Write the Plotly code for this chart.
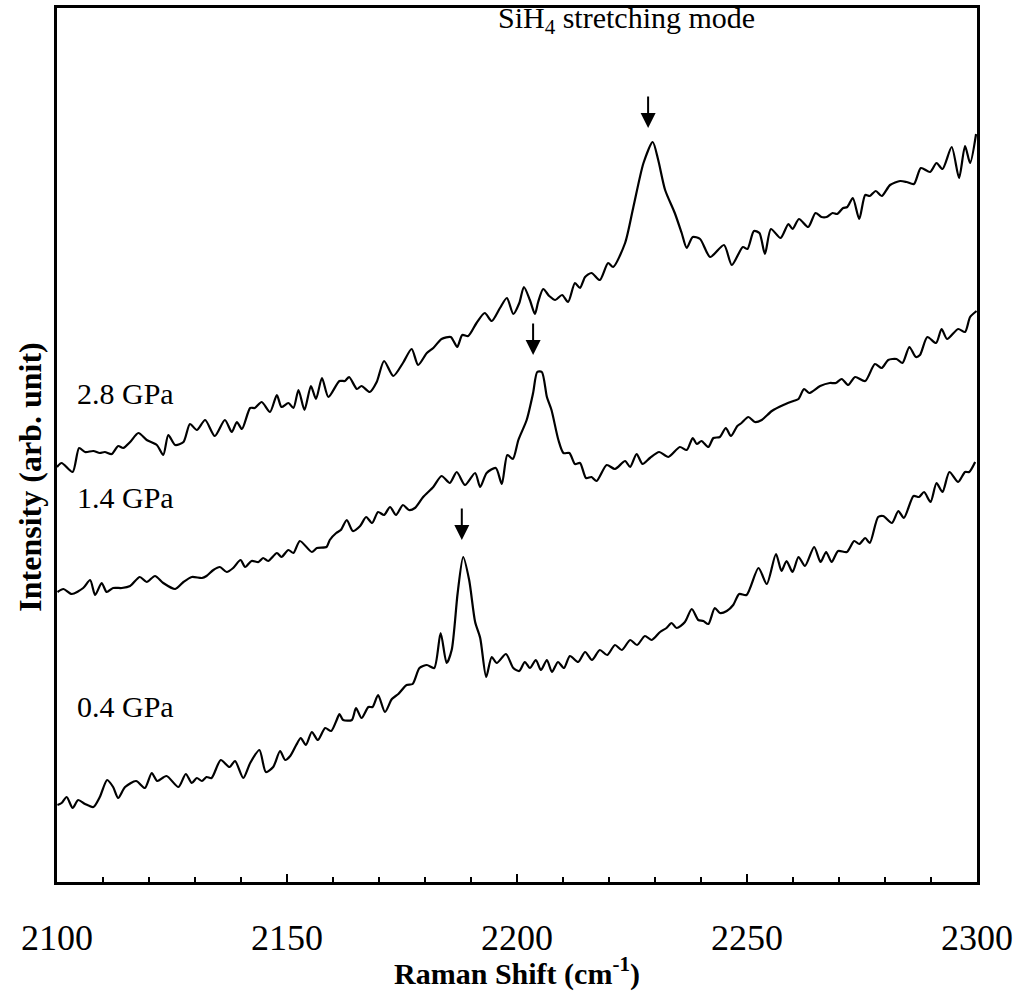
import plotly.graph_objects as go

# ---- data (Raman shift in cm^-1, intensity in arbitrary units) ----
shift_28 = [2100.0, 2101.0, 2103.4, 2104.8, 2106.1, 2107.9, 2109.3, 2110.4, 2111.9, 2113.3,
            2114.4, 2115.9, 2117.7, 2119.5, 2121.7, 2123.1, 2124.2, 2125.7, 2127.5, 2128.9,
            2130.4, 2132.2, 2134.3, 2136.5, 2138.0, 2139.1, 2140.2, 2142.0, 2143.0, 2144.5,
            2146.3, 2147.8, 2148.8, 2150.3, 2151.4, 2152.5, 2153.8, 2155.2, 2156.3, 2157.6,
            2159.0, 2161.4, 2162.6, 2163.5, 2165.2, 2166.2, 2168.0, 2169.5, 2171.1, 2173.1,
            2175.2, 2177.1, 2178.5, 2180.4, 2181.8, 2183.6, 2185.6, 2187.0, 2188.1, 2189.4,
            2191.2, 2193.0, 2194.5, 2196.3, 2197.8, 2199.2, 2200.5, 2201.5, 2202.8, 2203.9,
            2204.6, 2205.7, 2207.0, 2208.3, 2209.8, 2211.1, 2212.6, 2213.7, 2214.8, 2216.2,
            2218.0, 2219.8, 2220.9, 2223.5, 2225.3, 2227.5, 2229.5, 2230.7, 2232.2, 2234.3,
            2235.8, 2236.9, 2238.2, 2239.8, 2242.0, 2245.0, 2246.7, 2249.1, 2250.1, 2251.5,
            2252.7, 2253.9, 2255.2, 2257.3, 2259.0, 2259.9, 2261.3, 2263.3, 2264.9, 2266.2,
            2267.3, 2268.6, 2269.6, 2270.9, 2271.8, 2273.0, 2274.4, 2275.7, 2276.7, 2278.0,
            2279.3, 2281.1, 2283.3, 2284.7, 2286.3, 2287.8, 2289.8, 2291.2, 2292.5, 2294.5,
            2296.1, 2297.4, 2298.5, 2299.8]
int_28 = [415, 419, 410, 434, 430, 431, 429, 430, 428, 436,
          434, 440, 449, 442, 437, 427, 447, 437, 440, 458,
          452, 462, 446, 462, 450, 460, 453, 474, 474, 480,
          470, 487, 475, 479, 474, 492, 472, 496, 483, 504,
          485, 501, 501, 505, 493, 496, 490, 500, 521, 506,
          519, 533, 517, 529, 534, 543, 545, 535, 547, 546,
          559, 569, 561, 574, 584, 568, 579, 595, 582, 568,
          580, 593, 586, 582, 587, 580, 599, 594, 605, 609,
          602, 619, 615, 639, 675, 719, 740, 722, 692, 669,
          649, 634, 645, 643, 625, 637, 617, 635, 633, 651,
          649, 628, 653, 644, 658, 653, 663, 655, 669, 665,
          665, 669, 668, 674, 675, 684, 663, 687, 686, 691,
          686, 697, 701, 700, 698, 714, 710, 719, 713, 735,
          704, 736, 719, 748]

shift_14 = [2100.1, 2101.4, 2103.2, 2105.7, 2107.2, 2108.3, 2109.7, 2110.8, 2112.2, 2114.1,
            2115.9, 2118.0, 2119.5, 2121.3, 2123.1, 2125.7, 2127.5, 2129.3, 2131.5, 2132.5,
            2134.0, 2135.4, 2136.9, 2138.3, 2139.9, 2140.9, 2142.3, 2143.8, 2144.8, 2145.9,
            2147.8, 2148.8, 2150.3, 2151.4, 2152.8, 2155.4, 2156.5, 2158.6, 2159.3, 2160.7,
            2161.7, 2163.0, 2164.3, 2165.9, 2167.2, 2168.5, 2169.8, 2171.1, 2172.4, 2173.7,
            2175.2, 2176.5, 2177.8, 2179.6, 2181.8, 2183.6, 2185.4, 2186.9, 2188.7, 2190.9,
            2192.0, 2193.4, 2195.4, 2196.7, 2197.9, 2199.1, 2200.3, 2202.1, 2203.5, 2204.4,
            2205.4, 2206.5, 2207.5, 2209.0, 2210.1, 2211.4, 2212.6, 2213.7, 2215.0, 2216.2,
            2217.3, 2219.5, 2221.3, 2223.5, 2224.6, 2226.0, 2227.3, 2228.9, 2230.9, 2232.9,
            2235.4, 2236.9, 2238.2, 2239.1, 2240.1, 2241.6, 2242.7, 2244.1, 2245.4, 2246.5,
            2247.9, 2248.8, 2250.3, 2251.7, 2253.2, 2255.4, 2257.9, 2260.1, 2261.2, 2262.4,
            2263.5, 2265.9, 2268.0, 2269.3, 2270.6, 2272.0, 2273.5, 2275.7, 2277.8, 2279.3,
            2280.7, 2282.5, 2283.8, 2285.3, 2286.7, 2287.6, 2289.2, 2291.1, 2292.3, 2293.5,
            2295.9, 2297.4, 2298.5, 2299.9]
int_14 = [290, 293, 288, 294, 302, 287, 299, 290, 294, 294,
          296, 305, 300, 306, 299, 293, 300, 305, 304, 306,
          312, 315, 310, 314, 322, 315, 321, 320, 324, 321,
          329, 325, 332, 329, 341, 330, 334, 335, 342, 349,
          352, 362, 351, 356, 365, 359, 370, 367, 375, 367,
          377, 372, 374, 385, 395, 406, 399, 410, 397, 409,
          395, 409, 414, 398, 427, 423, 442, 462, 489, 510,
          510, 485, 472, 442, 429, 429, 418, 419, 404, 405,
          401, 417, 413, 421, 415, 428, 418, 424, 430, 425,
          435, 432, 444, 438, 441, 435, 444, 445, 454, 446,
          456, 459, 465, 460, 462, 471, 477, 481, 483, 493,
          489, 496, 499, 499, 503, 497, 505, 501, 518, 514,
          522, 523, 519, 535, 525, 527, 545, 539, 553, 543,
          553, 550, 565, 571]

shift_04 = [2100.1, 2101.0, 2102.1, 2103.4, 2104.6, 2106.1, 2107.9, 2109.3, 2110.9, 2112.2,
            2113.3, 2114.8, 2117.2, 2119.1, 2120.6, 2121.8, 2123.8, 2126.4, 2128.0, 2129.3,
            2130.4, 2131.5, 2132.5, 2133.6, 2135.6, 2137.5, 2138.7, 2140.5, 2142.0, 2144.0,
            2145.4, 2147.0, 2148.5, 2149.6, 2150.7, 2152.0, 2153.0, 2154.1, 2155.4, 2156.7,
            2158.3, 2159.6, 2160.8, 2161.4, 2162.2, 2164.1, 2165.0, 2166.2, 2167.7, 2168.6,
            2169.8, 2171.3, 2172.8, 2174.2, 2176.0, 2177.3, 2178.8, 2180.4, 2182.0, 2183.4,
            2184.7, 2185.8, 2187.1, 2188.3, 2189.6, 2190.9, 2192.0, 2193.3, 2194.5, 2195.6,
            2197.6, 2199.2, 2200.5, 2201.7, 2202.8, 2204.1, 2205.2, 2206.5, 2207.6, 2208.9,
            2210.2, 2211.5, 2213.3, 2214.8, 2216.3, 2218.0, 2219.6, 2221.3, 2222.8, 2224.6,
            2226.1, 2227.8, 2229.3, 2231.1, 2232.5, 2233.6, 2234.7, 2236.5, 2238.0, 2239.4,
            2240.5, 2241.6, 2243.0, 2244.1, 2245.6, 2247.0, 2248.3, 2249.9, 2252.5, 2254.3,
            2256.3, 2257.5, 2258.6, 2259.9, 2261.2, 2262.6, 2264.6, 2266.0, 2267.2, 2268.4,
            2269.8, 2271.7, 2273.3, 2274.4, 2275.7, 2276.7, 2278.5, 2279.6, 2281.5, 2282.9,
            2284.1, 2286.2, 2287.4, 2288.5, 2289.9, 2291.2, 2292.5, 2294.0, 2295.9, 2297.4,
            2298.3, 2299.6]
int_04 = [77, 79, 85, 74, 82, 78, 75, 85, 102, 95,
          84, 95, 101, 94, 109, 101, 106, 95, 108, 99,
          104, 101, 105, 104, 122, 115, 121, 104, 119, 132,
          110, 115, 131, 122, 126, 137, 144, 137, 150, 142,
          154, 151, 162, 168, 162, 162, 174, 164, 175, 175,
          187, 170, 183, 188, 197, 198, 214, 217, 214, 249,
          219, 232, 289, 325, 302, 260, 244, 205, 225, 219,
          228, 214, 211, 220, 214, 222, 212, 222, 210, 220,
          214, 226, 220, 230, 222, 232, 227, 237, 232, 242,
          237, 246, 242, 250, 254, 259, 254, 260, 273, 262,
          261, 258, 274, 269, 271, 277, 288, 287, 314, 298,
          328, 311, 321, 310, 325, 316, 335, 320, 330, 320,
          331, 330, 341, 338, 344, 339, 365, 366, 359, 371,
          364, 386, 385, 390, 380, 399, 390, 410, 400, 410,
          410, 420]

pressure_labels = ["2.8 GPa", "1.4 GPa", "0.4 GPa"]
label_levels = [489, 385, 176]
peak_tips = [(2228.5, 754), (2203.5, 527), (2188.0, 342)]
x_ticks = [2100, 2150, 2200, 2250, 2300]

FONT = "Liberation Serif, Times New Roman, serif"

fig = go.Figure()
for xs, ys in [(shift_28, int_28), (shift_14, int_14), (shift_04, int_04)]:
    fig.add_trace(go.Scatter(x=xs, y=ys, mode="lines",
                             line=dict(color="black", width=2.2, shape="spline", smoothing=0.7),
                             showlegend=False, hoverinfo="skip"))

annotations = []
for txt, lvl in zip(pressure_labels, label_levels):
    annotations.append(dict(x=2103.9, y=lvl, xref="x", yref="y", text=txt, showarrow=False,
                            xanchor="left", yanchor="middle",
                            font=dict(family=FONT, size=30, color="black")))
for (px, py) in peak_tips:
    annotations.append(dict(x=px, y=py, xref="x", yref="y", text="", showarrow=True,
                            arrowhead=2, arrowsize=1.5, arrowwidth=2, arrowcolor="black",
                            ax=0, ay=-33))
annotations.append(dict(x=2223.9, y=862, xref="x", yref="y",
                        text="SiH<sub>4</sub> stretching mode", showarrow=False,
                        xanchor="center", yanchor="middle",
                        font=dict(family=FONT, size=30, color="black")))
# y-axis title (placed as rotated text, slightly below the plot's mid-height as in the original)
annotations.append(dict(x=-0.029, y=0.463, xref="paper", yref="paper",
                        text="<b>Intensity (arb. unit)</b>", textangle=-90, showarrow=False,
                        xanchor="center", yanchor="middle",
                        font=dict(family=FONT, size=32, color="black")))

fig.update_layout(
    width=1017, height=991,
    margin=dict(l=57, r=40, t=8, b=109),
    paper_bgcolor="white", plot_bgcolor="white",
    font=dict(family=FONT, color="black"),
    annotations=annotations,
    xaxis=dict(range=[2100, 2300], tickvals=x_ticks, ticks="inside", ticklen=8,
               tickwidth=2, tickcolor="black",
               minor=dict(dtick=10, ticks="inside", ticklen=5, tickwidth=1.5, tickcolor="black"),
               showline=True, linecolor="black", linewidth=3, mirror=True,
               showgrid=False, zeroline=False,
               tickfont=dict(family=FONT, size=36, color="black"),
               ticklabelstandoff=22,
               title=dict(text="<b>Raman Shift (cm<sup>-1</sup>)</b>",
                          font=dict(family=FONT, size=30, color="black"), standoff=10),
               automargin=False),
    yaxis=dict(range=[0, 874], showticklabels=False, ticks="",
               showline=True, linecolor="black", linewidth=3, mirror=True,
               showgrid=False, zeroline=False, automargin=False),
)

# remove the browser's default page margin so the figure sits at the window's origin
fig.write_html("out.html", config={"displayModeBar": False},
               post_script="document.body.style.margin='0px';")
